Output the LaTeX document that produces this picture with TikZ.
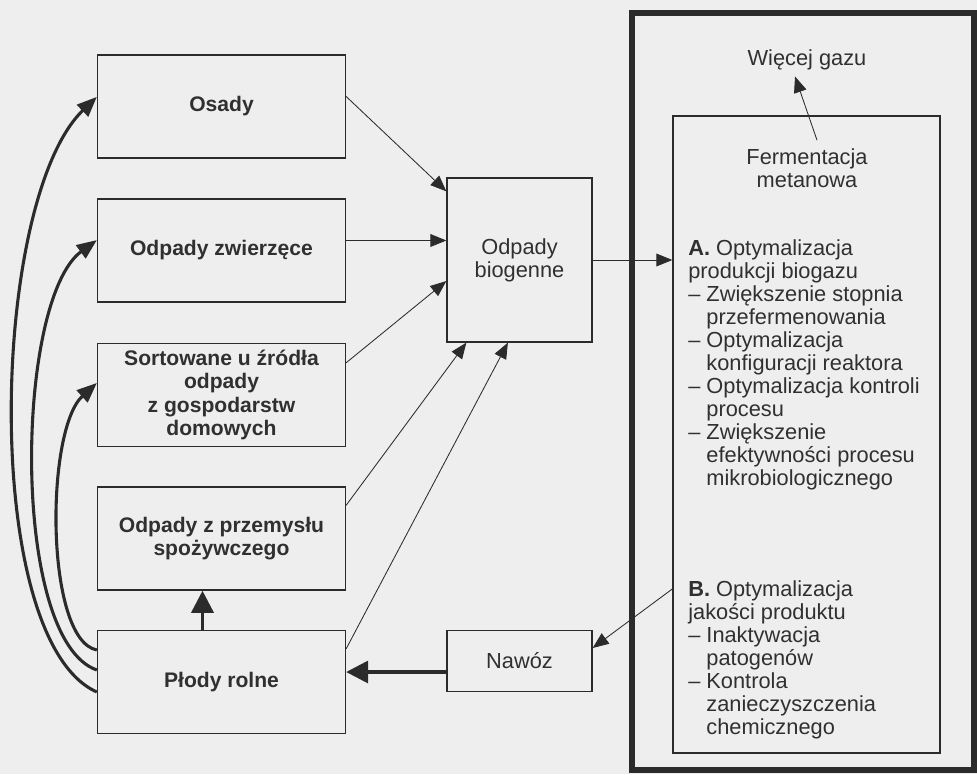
\documentclass[tikz,border=0pt]{standalone}
\usepackage{fontspec}
\setmainfont{Liberation Sans}
\usetikzlibrary{arrows.meta,positioning,calc}
\definecolor{paperBg}{HTML}{EEEEEE}
\definecolor{inkDark}{HTML}{2B2B2B}
\definecolor{inkText}{HTML}{303030}

\begin{document}
\begin{tikzpicture}[x=0.025cm, y=-0.025cm,
      srcBox/.style={rectangle, draw=inkDark, line width=0.9pt, minimum width=6.2cm, minimum height=2.58cm, inner sep=0pt, align=center, text=inkText, font=\fontsize{15}{16.6}\selectfont\bfseries},
      midBox/.style={rectangle, draw=inkDark, line width=0.9pt, minimum width=3.625cm, inner sep=0pt, align=center, text=inkText, font=\fontsize{15.5}{16.4}\selectfont},
      panel/.style={rectangle, draw=inkDark, line width=0.9pt, minimum width=6.675cm, minimum height=15.925cm, inner sep=0pt},
      plain/.style={inner sep=0pt, align=center, text=inkText, font=\fontsize{15.5}{16.4}\selectfont},
      listTxt/.style={inner sep=0pt, align=left, text=inkText, font=\fontsize{15.5}{16.4}\selectfont, anchor=north west},
      flow/.style={-{Triangle[length=4mm,width=3.2mm]}, line width=0.6pt, draw=inkDark},
      bigFlow/.style={-{Triangle[length=5.5mm,width=5.5mm]}, line width=2.4pt, draw=inkDark},
      loopFlow/.style={-{Triangle[length=5mm,width=4mm]}, line width=2.2pt, draw=inkDark}
    ]
      \fill[paperBg] (0,0) rectangle (977,774);
      \useasboundingbox (0,0) rectangle (977,774);
      % sources
      \node[srcBox] (osady) at (221.5,106.5) {Osady};
      \node[srcBox] (zwierz) at (221.5,250.5) {Odpady zwierzęce};
      \node[srcBox] (sort) at (221.5,395) {Sortowane u źródła\\odpady\\z gospodarstw\\domowych};
      \node[srcBox] (przem) at (221.5,538.5) {Odpady z przemysłu\\spożywczego};
      \node[srcBox] (plody) at (221.5,682) {Płody rolne};
      \node[midBox, minimum height=4.1cm] (biog) at (519.5,260) {Odpady\\biogenne};
      \node[midBox, minimum height=1.53cm] (nawoz) at (519.5,661) {Nawóz};
      % digester panel
      \draw[draw=inkDark, line width=4pt] (632,13) rectangle (974,770);
      \node[panel] (ferm) at (806.5,434.5) {};
      \node[plain] (gaz) at (807,60) {Więcej gazu};
      \node[plain] (fermtxt) at (807,168) {Fermentacja\\metanowa};
      \node[listTxt] (listA) at (688,239) {\textbf{A.} Optymalizacja\\produkcji biogazu\\– Zwiększenie stopnia\\\hphantom{– }przefermenowania\\– Optymalizacja\\\hphantom{– }konfiguracji reaktora\\– Optymalizacja kontroli\\\hphantom{– }procesu\\– Zwiększenie\\\hphantom{– }efektywności procesu\\\hphantom{– }mikrobiologicznego};
      \node[listTxt] (listB) at (688,580) {\textbf{B.} Optymalizacja\\jakości produktu\\– Inaktywacja\\\hphantom{– }patogenów\\– Kontrola\\\hphantom{– }zanieczyszczenia\\\hphantom{– }chemicznego};
      % flows into biogenic waste
      \draw[flow] ([yshift=2.5mm]osady.east) -- ([yshift=-3.5mm]biog.north west);
      \draw[flow] ([yshift=2.5mm]zwierz.east) -- ([yshift=2.5mm]zwierz.east -| biog.west);
      \draw[flow] ([yshift=-5mm]sort.north east) -- ([yshift=-5.25mm]biog.west);
      \draw[flow] ([yshift=-4.75mm]przem.north east) -- ([xshift=5mm]biog.south west);
      \draw[flow] ([yshift=-4.75mm]plody.north east) -- ([xshift=-2.9mm]biog.south);
      \draw[flow] (biog.east) -- (biog.east -| ferm.west);
      \draw[flow] ([xshift=2.5mm,yshift=2mm]fermtxt.north) -- ([xshift=-3mm,yshift=-1.5mm]gaz.south);
      \draw[flow] ([yshift=-38.6mm]ferm.west) -- ([yshift=3.25mm]nawoz.east);
      % return flows
      \draw[bigFlow] ([yshift=-2.75mm]nawoz.west) -- ([yshift=-2.75mm]nawoz.west -| plody.east);
      \draw[bigFlow] ([xshift=-4.75mm]plody.north) -- ([xshift=-4.75mm]przem.south);
      \draw[loopFlow] ([yshift=-2.5mm]plody.west) .. controls (-20,640) and (-10,200) .. ([yshift=2.4mm]osady.west);
      \draw[loopFlow] ([yshift=3mm]plody.west) .. controls (10,640) and (15,300) .. ([yshift=2.6mm]zwierz.west);
      \draw[loopFlow] ([yshift=8mm]plody.west) .. controls (45,640) and (45,430) .. ([yshift=3mm]sort.west);
    \end{tikzpicture}
\end{document}
